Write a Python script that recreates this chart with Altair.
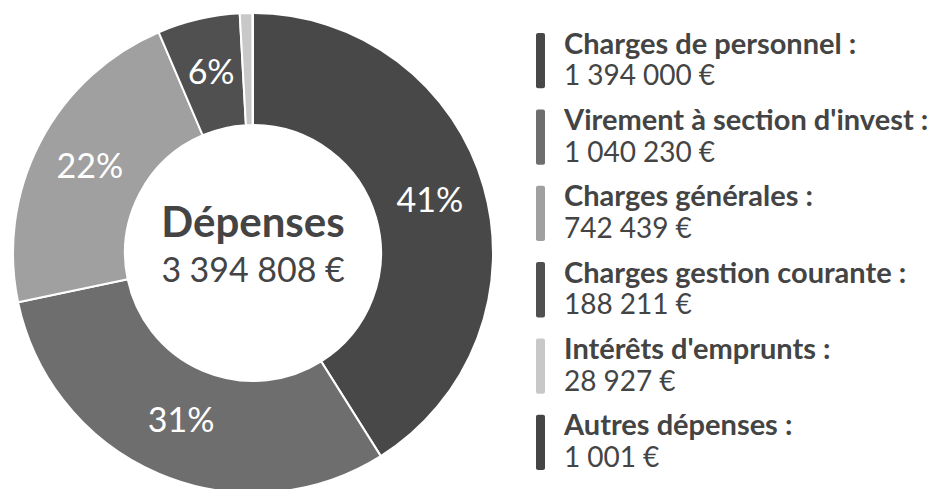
import altair as alt
import pandas as pd

NS = "\u202f"
categories = ["Charges de personnel", "Virement à section d'invest", "Charges générales",
              "Charges gestion courante", "Intérêts d'emprunts", "Autres dépenses"]
values = [1394000, 1040230, 742439, 188211, 28927, 1001]
value_labels = ["1 394 000 €", "1 040 230 €", "742 439 €", "188 211 €", "28 927 €", "1 001 €"]
pct_labels = ["41%", "31%", "22%", "6%", "", ""]
colors = ["#484848", "#6e6e6e", "#a0a0a0", "#505050", "#c8c8c8", "#454545"]
center_title = "Dépenses"
center_total = "3 394 808 €"

df = pd.DataFrame({
    "cat": categories,
    "value": values,
    "order": list(range(len(categories))),
    "pct": pct_labels,
    "label": [c + " :" for c in categories],
    "vlabel": [v.replace(" ", NS) for v in value_labels],
})

color = alt.Color("cat:N", scale=alt.Scale(domain=categories, range=colors), legend=None)
theta = alt.Theta("value:Q", stack=True)
order = alt.Order("order:Q")
TXT = "#444444"

arc = alt.Chart(df).mark_arc(innerRadius=128, outerRadius=240, stroke="white", strokeWidth=2).encode(
    theta=theta, order=order, color=color, x=alt.value(245), y=alt.value(245)
)
pct = alt.Chart(df).mark_text(radius=184, fontSize=34, font="Lato", color="white").encode(
    theta=theta, order=order, text="pct:N", x=alt.value(245), y=alt.value(245)
)
center_df = pd.DataFrame({"t": [center_title], "v": [center_total.replace(" ", NS)]})
c1 = alt.Chart(center_df).mark_text(font="Lato", fontWeight="bold", fontSize=42, color=TXT,
                                    baseline="alphabetic").encode(
    text="t:N", x=alt.value(245), y=alt.value(229))
c2 = alt.Chart(center_df).mark_text(font="Lato", fontSize=34, color=TXT,
                                    baseline="alphabetic").encode(
    text="v:N", x=alt.value(245), y=alt.value(274))

donut = alt.layer(arc, pct, c1, c2).properties(width=490, height=481)

leg_y = alt.Y("cat:N", sort=categories, axis=None,
              scale=alt.Scale(paddingInner=0.276, paddingOuter=0.288, align=0.57))
sw = alt.Chart(df).mark_rect(cornerRadius=2).encode(
    y=leg_y, x=alt.value(0), x2=alt.value(9), color=color)
lab = alt.Chart(df).mark_text(align="left", baseline="alphabetic", dy=-7, fontSize=29,
                              fontWeight="bold", font="Lato", color=TXT).encode(
    y=leg_y, x=alt.value(28), text="label:N")
val = alt.Chart(df).mark_text(align="left", baseline="alphabetic", dy=24.5, fontSize=28,
                              font="Lato", color=TXT).encode(
    y=leg_y, x=alt.value(28), text="vlabel:N")
legend = alt.layer(sw, lab, val).properties(width=390, height=481)

chart = alt.hconcat(donut, legend, spacing=38).properties(padding=0).configure_view(stroke=None)
chart.save("out.html", embed_options={"renderer": "svg", "actions": False})
